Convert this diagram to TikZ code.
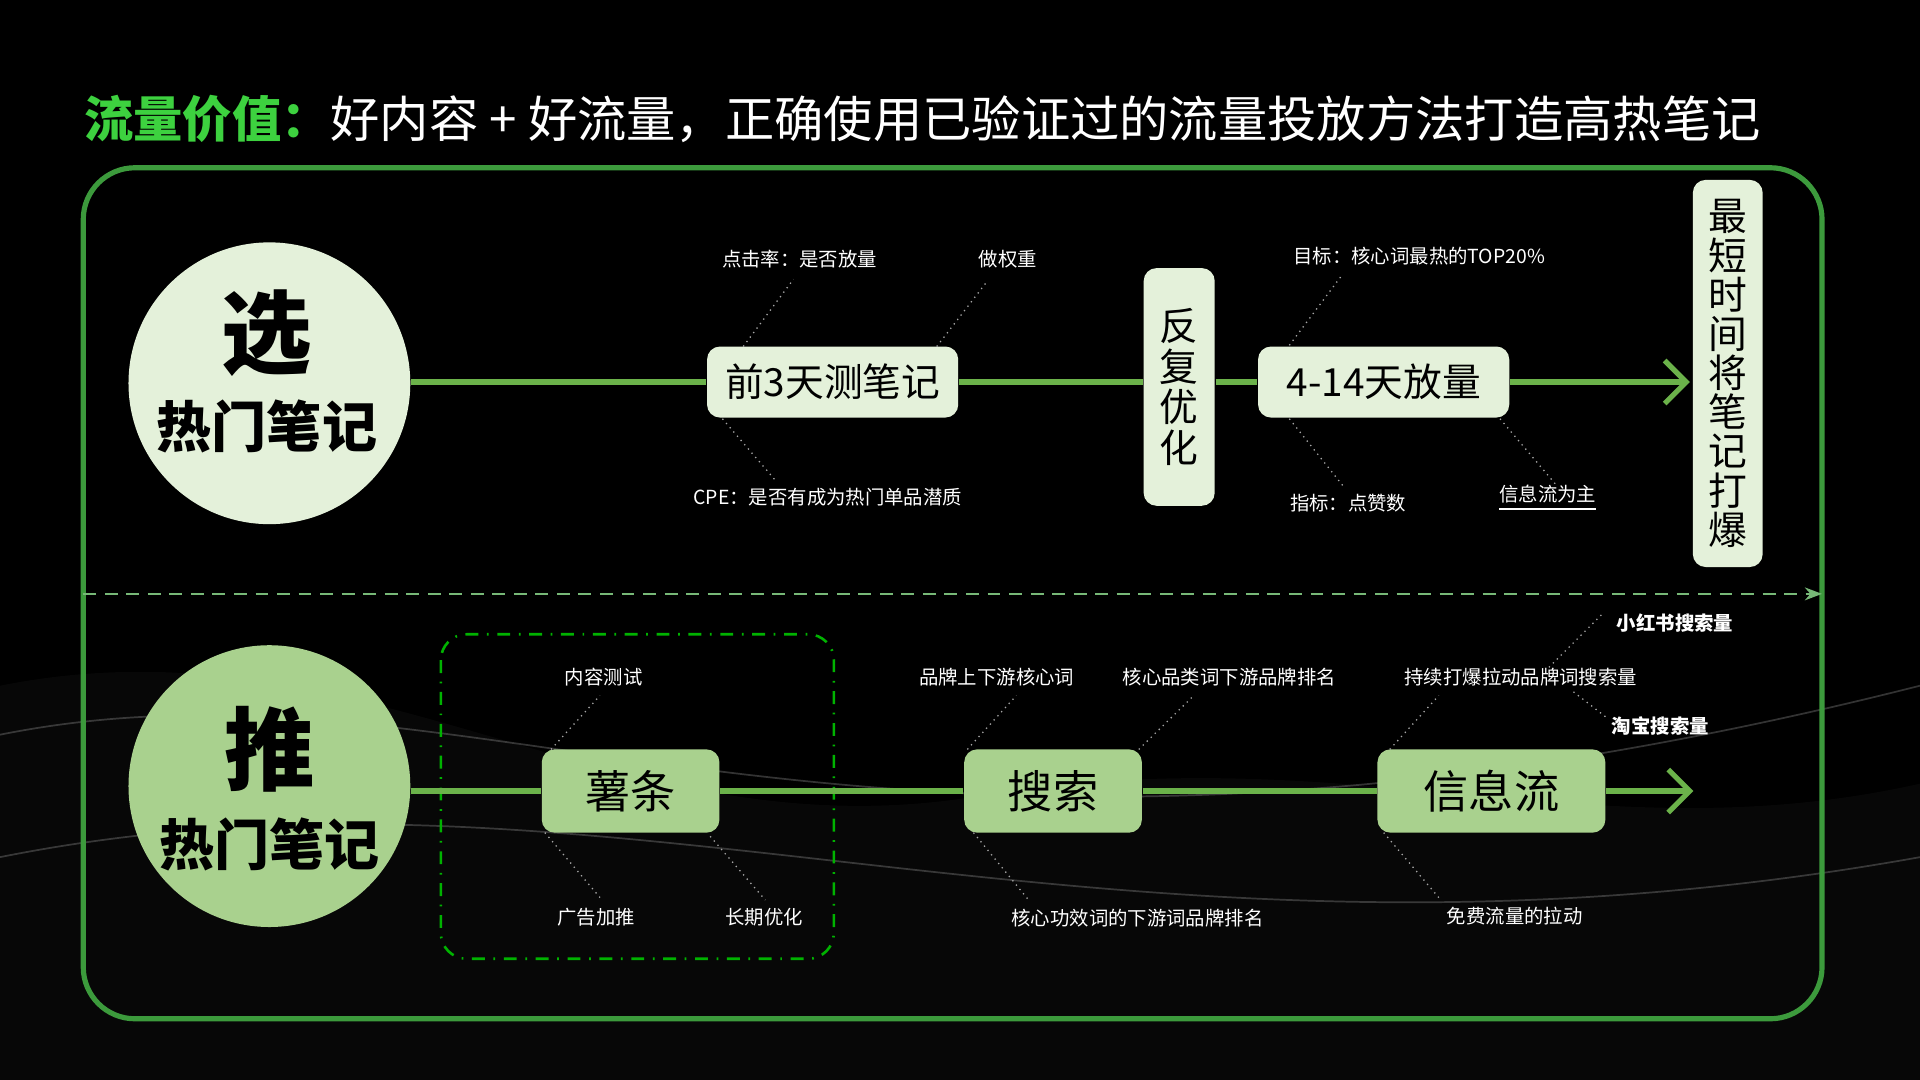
\documentclass[tikz,border=0pt]{standalone}
\usepackage{fontspec}
\setmainfont{Noto Sans CJK SC}
\usetikzlibrary{positioning,calc,arrows.meta}
\definecolor{hotgreen}{HTML}{3DD13F}
\definecolor{framegreen}{HTML}{3C9A3C}
\definecolor{linegreen}{HTML}{6BB24A}
\definecolor{palebox}{HTML}{E4F1DA}
\definecolor{midbox}{HTML}{A9D18E}
\newcommand{\fsz}[1]{\fontsize{#1}{#1}\selectfont}

\begin{document}
\begin{tikzpicture}[x=0.01cm,y=-0.01cm,
  paleblk/.style={fill=palebox,rounded corners=3pt,inner sep=0pt,text=black},
  midblk/.style={fill=midbox,rounded corners=3pt,inner sep=0pt,text=black},
  note/.style={text=white,font=\fsz{4.5pt},inner sep=1pt},
  leader/.style={draw=gray!70,densely dotted,line width=0.3pt},
  flow/.style={draw=linegreen,line width=1.2pt}]
  % background
  \fill[black] (0,0) rectangle (1568,882);
  \useasboundingbox (0,0) rectangle (1568,882);
  \fill[black!85!white,opacity=0.2] (0,560) .. controls (300,500) and (500,700) .. (800,650)
     .. controls (1100,600) and (1300,700) .. (1568,640) -- (1568,882) -- (0,882) -- cycle;
  \draw[gray!40,opacity=0.25,line width=0.4pt] (0,600) .. controls (400,520) and (700,780) .. (1568,560);
  \draw[gray!40,opacity=0.25,line width=0.4pt] (0,700) .. controls (500,600) and (900,820) .. (1568,700);

  %% title
  \node[anchor=west,inner sep=0pt] (title) at (68,97)
    {\fsz{11.45pt}\textcolor{hotgreen}{\bfseries 流量价值：}\textcolor{white}{好内容 + 好流量，正确使用已验证过的流量投放方法打造高热笔记}};

  %% frame and divider
  \draw[framegreen,line width=1.2pt,rounded corners=12pt] (68,137) rectangle (1488,832);
  \coordinate (divL) at (68,485);
  \coordinate (divR) at (1488,485);
  \draw[framegreen!70,densely dashed,line width=0.4pt,-{Stealth[length=4pt]}] (divL) -- (divR);

  %% top row
  \node[circle,fill=palebox,minimum size=2.3cm,inner sep=0pt] (selC) at (220,313) {};
  \node[font=\fsz{21pt}\bfseries] (selA) at (218,272) {选};
  \node[font=\fsz{12.8pt}\bfseries] (selB) at (218,348) {热门笔记};
  \node[paleblk,minimum width=2.05cm,minimum height=0.58cm,font=\fsz{9pt}] (test) at (680,312) {前3天测笔记};
  \node[paleblk,minimum width=0.58cm,minimum height=1.94cm,font=\fontsize{9pt}{9.5pt}\selectfont,align=center] (iter) at (963,316) {反\\复\\优\\化};
  \node[paleblk,minimum width=2.05cm,minimum height=0.58cm,font=\fsz{9pt}] (scale) at (1130,312) {4-14天放量};
  \node[paleblk,minimum width=0.57cm,minimum height=3.16cm,font=\fontsize{9pt}{9.1pt}\selectfont,align=center] (burst) at (1411,305)
    {最\\短\\时\\间\\将\\笔\\记\\打\\爆};
  \coordinate (topEnd) at (1380,312);
  \draw[flow] (selC.east |- test.west) -- (test.west);
  \draw[flow] (test.east) -- (iter.west |- test.east);
  \draw[flow] (iter.east |- scale.west) -- (scale.west);
  \draw[flow,-{Straight Barb[length=5pt]}] (scale.east) -- (topEnd);

  \node[note] (ctr) at (653,212) {点击率：是否放量};
  \node[note] (wgt) at (823,212) {做权重};
  \node[note] (cpe) at (676,406) {CPE：是否有成为热门单品潜质};
  \node[note] (goal) at (1159,209) {目标：核心词最热的TOP20\%};
  \node[note] (kpi) at (1101,411) {指标：点赞数};
  \node[note] (feed) at (1264,407) {\underline{信息流为主}};
  \draw[leader] (607,283) -- (648,228);
  \draw[leader] (765,283) -- (806,230);
  \draw[leader] (590,342) -- (633,392);
  \draw[leader] (1053,282) -- (1095,226);
  \draw[leader] (1053,342) -- (1097,397);
  \draw[leader] (1225,342) -- (1270,395);

  %% bottom row
  \node[circle,fill=midbox,minimum size=2.3cm,inner sep=0pt] (pushC) at (220,642) {};
  \node[font=\fsz{21pt}\bfseries] (pushA) at (220,612) {推};
  \node[font=\fsz{12.8pt}\bfseries] (pushB) at (220,690) {热门笔记};
  \draw[green!70!black,dash dot,line width=0.6pt,rounded corners=6pt] (360,518) rectangle (681,783);
  \node[midblk,minimum width=1.45cm,minimum height=0.68cm,font=\fsz{10.5pt}] (chips) at (515,646) {薯条};
  \node[midblk,minimum width=1.45cm,minimum height=0.68cm,font=\fsz{10.5pt}] (search) at (860,646) {搜索};
  \node[midblk,minimum width=1.86cm,minimum height=0.68cm,font=\fsz{10.5pt}] (stream) at (1218,646) {信息流};
  \coordinate (botEnd) at (1383,646);
  \draw[flow] (pushC.east |- chips.west) -- (chips.west);
  \draw[flow] (chips.east) -- (search.west);
  \draw[flow] (search.east) -- (stream.west);
  \draw[flow,-{Straight Barb[length=5pt]}] (stream.east) -- (botEnd);

  \node[note] (ctest) at (493,553) {内容测试};
  \node[note] (adpush) at (487,749) {广告加推};
  \node[note] (longopt) at (624,749) {长期优化};
  \node[note] (brandkw) at (814,553) {品牌上下游核心词};
  \node[note] (catkw) at (1004,553) {核心品类词下游品牌排名};
  \node[note] (effkw) at (929,750) {核心功效词的下游词品牌排名};
  \node[note] (keep) at (1242,553) {持续打爆拉动品牌词搜索量};
  \node[note] (free) at (1237,748) {免费流量的拉动};
  \node[note,font=\fsz{4.5pt}\bfseries] (xhs) at (1368,509) {小红书搜索量};
  \node[note,font=\fsz{4.5pt}\bfseries] (tb) at (1356,593) {淘宝搜索量};
  \draw[leader] (450,612) -- (490,568);
  \draw[leader] (445,680) -- (490,733);
  \draw[leader] (580,683) -- (625,735);
  \draw[leader] (790,612) -- (830,568);
  \draw[leader] (930,612) -- (975,568);
  \draw[leader] (795,680) -- (840,735);
  \draw[leader] (1135,612) -- (1175,568);
  \draw[leader] (1130,680) -- (1175,733);
  \draw[leader] (1265,545) -- (1310,500);
  \draw[leader] (1285,565) -- (1312,586);
\end{tikzpicture}
\end{document}
